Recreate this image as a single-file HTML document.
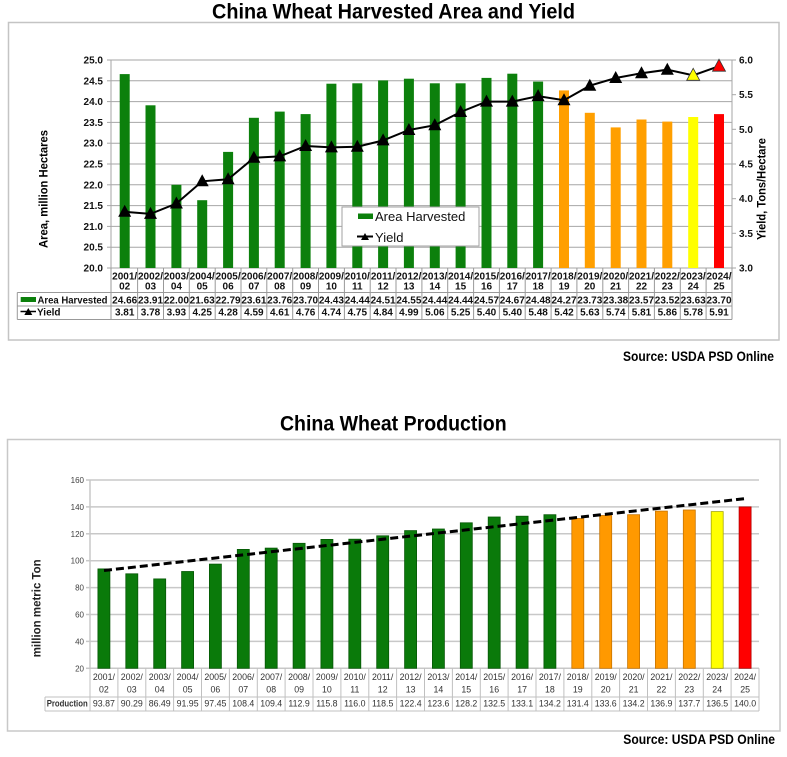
<!DOCTYPE html>
<html><head><meta charset="utf-8"><style>
html,body{margin:0;padding:0;background:#fff;}
svg{display:block;}
text{font-family:"Liberation Sans",sans-serif;}
</style></head><body>
<svg width="787" height="757" viewBox="0 0 787 757" xmlns="http://www.w3.org/2000/svg">
<defs><polygon id="tri" points="-6.5,5 6.5,5 0,-7"/><polygon id="tris" points="-4,3 4,3 0,-4"/></defs>
<rect width="787" height="757" fill="#fff"/>

<!-- ===== TOP CHART ===== -->
<text x="393.5" y="18.5" font-size="21" font-weight="bold" text-anchor="middle" textLength="363" lengthAdjust="spacingAndGlyphs">China Wheat Harvested Area and Yield</text>
<rect x="8.5" y="22.5" width="770.5" height="317.5" fill="#fff" stroke="#c4c4c4" stroke-width="1.5"/>

<!-- gridlines -->
<g stroke="#a6a6a6" stroke-width="1">
<line x1="111" y1="60" x2="732" y2="60"/><line x1="111" y1="80.8" x2="732" y2="80.8"/><line x1="111" y1="101.6" x2="732" y2="101.6"/><line x1="111" y1="122.4" x2="732" y2="122.4"/><line x1="111" y1="143.2" x2="732" y2="143.2"/><line x1="111" y1="164" x2="732" y2="164"/><line x1="111" y1="184.8" x2="732" y2="184.8"/><line x1="111" y1="205.6" x2="732" y2="205.6"/><line x1="111" y1="226.4" x2="732" y2="226.4"/><line x1="111" y1="247.2" x2="732" y2="247.2"/><line x1="111" y1="268" x2="732" y2="268"/>
<line x1="111" y1="60" x2="111" y2="268"/><line x1="732" y1="60" x2="732" y2="268"/>
<line x1="107" y1="60" x2="111" y2="60"/><line x1="107" y1="80.8" x2="111" y2="80.8"/><line x1="107" y1="101.6" x2="111" y2="101.6"/><line x1="107" y1="122.4" x2="111" y2="122.4"/><line x1="107" y1="143.2" x2="111" y2="143.2"/><line x1="107" y1="164" x2="111" y2="164"/><line x1="107" y1="184.8" x2="111" y2="184.8"/><line x1="107" y1="205.6" x2="111" y2="205.6"/><line x1="107" y1="226.4" x2="111" y2="226.4"/><line x1="107" y1="247.2" x2="111" y2="247.2"/><line x1="107" y1="268" x2="111" y2="268"/>
<line x1="732" y1="60" x2="736" y2="60"/><line x1="732" y1="94.7" x2="736" y2="94.7"/><line x1="732" y1="129.3" x2="736" y2="129.3"/><line x1="732" y1="164" x2="736" y2="164"/><line x1="732" y1="198.7" x2="736" y2="198.7"/><line x1="732" y1="233.3" x2="736" y2="233.3"/><line x1="732" y1="268" x2="736" y2="268"/>
</g>

<!-- left tick labels -->
<g font-size="10" font-weight="bold" text-anchor="end" fill="#111">
<text x="103" y="63.5">25.0</text><text x="103" y="84.3">24.5</text><text x="103" y="105.1">24.0</text><text x="103" y="125.9">23.5</text><text x="103" y="146.7">23.0</text><text x="103" y="167.5">22.5</text><text x="103" y="188.3">22.0</text><text x="103" y="209.1">21.5</text><text x="103" y="229.9">21.0</text><text x="103" y="250.7">20.5</text><text x="103" y="271.5">20.0</text>
</g>
<!-- right tick labels -->
<g font-size="10" font-weight="bold" fill="#111">
<text x="739" y="63.5">6.0</text><text x="739" y="98.2">5.5</text><text x="739" y="132.8">5.0</text><text x="739" y="167.5">4.5</text><text x="739" y="202.2">4.0</text><text x="739" y="236.8">3.5</text><text x="739" y="271.5">3.0</text>
</g>
<text transform="translate(47.5,189) rotate(-90)" font-size="12" font-weight="bold" text-anchor="middle" textLength="118" lengthAdjust="spacingAndGlyphs">Area, million Hectares</text>
<text transform="translate(765.5,189) rotate(-90)" font-size="12" font-weight="bold" text-anchor="middle" textLength="102" lengthAdjust="spacingAndGlyphs">Yield, Tons/Hectare</text>

<!-- bars -->
<g fill="#0c800c">
<rect x="119.7" y="74.1" width="10" height="193.9"/>
<rect x="145.5" y="105.3" width="10" height="162.7"/>
<rect x="171.4" y="184.8" width="10" height="83.2"/>
<rect x="197.2" y="200.2" width="10" height="67.8"/>
<rect x="223.1" y="151.9" width="10" height="116.1"/>
<rect x="248.9" y="117.8" width="10" height="150.2"/>
<rect x="274.7" y="111.6" width="10" height="156.4"/>
<rect x="300.6" y="114.1" width="10" height="153.9"/>
<rect x="326.4" y="83.7" width="10" height="184.3"/>
<rect x="352.3" y="83.3" width="10" height="184.7"/>
<rect x="378.1" y="80.4" width="10" height="187.6"/>
<rect x="403.9" y="78.7" width="10" height="189.3"/>
<rect x="429.8" y="83.3" width="10" height="184.7"/>
<rect x="455.6" y="83.3" width="10" height="184.7"/>
<rect x="481.5" y="77.9" width="10" height="190.1"/>
<rect x="507.3" y="73.7" width="10" height="194.3"/>
<rect x="533.1" y="81.6" width="10" height="186.4"/>
</g>
<g fill="#ff9f00">
<rect x="559.0" y="90.4" width="10" height="177.6"/>
<rect x="584.8" y="112.8" width="10" height="155.2"/>
<rect x="610.7" y="127.4" width="10" height="140.6"/>
<rect x="636.5" y="119.5" width="10" height="148.5"/>
<rect x="662.3" y="121.6" width="10" height="146.4"/>
</g>
<rect x="688.2" y="117.0" width="10" height="151.0" fill="#ffff00"/>
<rect x="714.0" y="114.1" width="10" height="153.9" fill="#ff0000"/>

<!-- legend -->
<rect x="342" y="207" width="137" height="39" fill="#fff" stroke="#a0a0a0" stroke-width="1"/>
<rect x="358" y="213.5" width="15" height="5.5" fill="#0c800c"/>
<text x="375" y="221" font-size="13" fill="#111">Area Harvested</text>
<line x1="357" y1="236.5" x2="373" y2="236.5" stroke="#000" stroke-width="2"/>
<use href="#tris" x="365" y="237" fill="#000"/>
<text x="375" y="242" font-size="13" fill="#111">Yield</text>

<!-- yield line -->
<polyline fill="none" stroke="#000" stroke-width="2" points="124.7,211.8 150.5,213.9 176.4,203.5 202.2,181.3 228.1,179.3 253.9,157.8 279.7,156.4 305.6,146.0 331.4,147.4 357.3,146.7 383.1,140.4 408.9,130.0 434.8,125.2 460.6,112.0 486.5,101.6 512.3,101.6 538.1,96.1 564.0,100.2 589.8,85.7 615.7,78.0 641.5,73.2 667.3,69.7 693.2,75.3 719.0,66.2"/>
<g fill="#000">
<use href="#tri" x="124.7" y="211.8"/><use href="#tri" x="150.5" y="213.9"/><use href="#tri" x="176.4" y="203.5"/><use href="#tri" x="202.2" y="181.3"/><use href="#tri" x="228.1" y="179.3"/><use href="#tri" x="253.9" y="157.8"/><use href="#tri" x="279.7" y="156.4"/><use href="#tri" x="305.6" y="146.0"/><use href="#tri" x="331.4" y="147.4"/><use href="#tri" x="357.3" y="146.7"/><use href="#tri" x="383.1" y="140.4"/><use href="#tri" x="408.9" y="130.0"/><use href="#tri" x="434.8" y="125.2"/><use href="#tri" x="460.6" y="112.0"/><use href="#tri" x="486.5" y="101.6"/><use href="#tri" x="512.3" y="101.6"/><use href="#tri" x="538.1" y="96.1"/><use href="#tri" x="564.0" y="100.2"/><use href="#tri" x="589.8" y="85.7"/><use href="#tri" x="615.7" y="78.0"/><use href="#tri" x="641.5" y="73.2"/><use href="#tri" x="667.3" y="69.7"/>
</g>
<use href="#tri" x="693.2" y="75.3" fill="#ffff00" stroke="#333" stroke-width="0.8"/>
<use href="#tri" x="719.0" y="66.2" fill="#ff0000" stroke="#333" stroke-width="0.8"/>

<!-- top table -->
<g stroke="#999" stroke-width="1" fill="none">
<path d="M111 268V319.5M137.6 268V319.5M163.5 268V319.5M189.3 268V319.5M215.2 268V319.5M241 268V319.5M266.8 268V319.5M292.7 268V319.5M318.5 268V319.5M344.4 268V319.5M370.2 268V319.5M396 268V319.5M421.9 268V319.5M447.7 268V319.5M473.6 268V319.5M499.4 268V319.5M525.2 268V319.5M551.1 268V319.5M576.9 268V319.5M602.8 268V319.5M628.6 268V319.5M654.4 268V319.5M680.3 268V319.5M706.1 268V319.5M732 268V319.5"/>
<path d="M17.3 292.5H732M17.3 306H732M17.3 319.5H732M17.3 292.5V319.5"/>
</g>
<g font-size="10" font-weight="bold" text-anchor="middle" fill="#111">
<text x="124.7" y="279.3">2001/</text><text x="124.7" y="289.5">02</text>
<text x="150.5" y="279.3">2002/</text><text x="150.5" y="289.5">03</text>
<text x="176.4" y="279.3">2003/</text><text x="176.4" y="289.5">04</text>
<text x="202.2" y="279.3">2004/</text><text x="202.2" y="289.5">05</text>
<text x="228.1" y="279.3">2005/</text><text x="228.1" y="289.5">06</text>
<text x="253.9" y="279.3">2006/</text><text x="253.9" y="289.5">07</text>
<text x="279.7" y="279.3">2007/</text><text x="279.7" y="289.5">08</text>
<text x="305.6" y="279.3">2008/</text><text x="305.6" y="289.5">09</text>
<text x="331.4" y="279.3">2009/</text><text x="331.4" y="289.5">10</text>
<text x="357.3" y="279.3">2010/</text><text x="357.3" y="289.5">11</text>
<text x="383.1" y="279.3">2011/</text><text x="383.1" y="289.5">12</text>
<text x="408.9" y="279.3">2012/</text><text x="408.9" y="289.5">13</text>
<text x="434.8" y="279.3">2013/</text><text x="434.8" y="289.5">14</text>
<text x="460.6" y="279.3">2014/</text><text x="460.6" y="289.5">15</text>
<text x="486.5" y="279.3">2015/</text><text x="486.5" y="289.5">16</text>
<text x="512.3" y="279.3">2016/</text><text x="512.3" y="289.5">17</text>
<text x="538.1" y="279.3">2017/</text><text x="538.1" y="289.5">18</text>
<text x="564.0" y="279.3">2018/</text><text x="564.0" y="289.5">19</text>
<text x="589.8" y="279.3">2019/</text><text x="589.8" y="289.5">20</text>
<text x="615.7" y="279.3">2020/</text><text x="615.7" y="289.5">21</text>
<text x="641.5" y="279.3">2021/</text><text x="641.5" y="289.5">22</text>
<text x="667.3" y="279.3">2022/</text><text x="667.3" y="289.5">23</text>
<text x="693.2" y="279.3">2023/</text><text x="693.2" y="289.5">24</text>
<text x="719.0" y="279.3">2024/</text><text x="719.0" y="289.5">25</text>

<text x="124.7" y="303.3">24.66</text><text x="150.5" y="303.3">23.91</text><text x="176.4" y="303.3">22.00</text><text x="202.2" y="303.3">21.63</text><text x="228.1" y="303.3">22.79</text><text x="253.9" y="303.3">23.61</text><text x="279.7" y="303.3">23.76</text><text x="305.6" y="303.3">23.70</text><text x="331.4" y="303.3">24.43</text><text x="357.3" y="303.3">24.44</text><text x="383.1" y="303.3">24.51</text><text x="408.9" y="303.3">24.55</text><text x="434.8" y="303.3">24.44</text><text x="460.6" y="303.3">24.44</text><text x="486.5" y="303.3">24.57</text><text x="512.3" y="303.3">24.67</text><text x="538.1" y="303.3">24.48</text><text x="564.0" y="303.3">24.27</text><text x="589.8" y="303.3">23.73</text><text x="615.7" y="303.3">23.38</text><text x="641.5" y="303.3">23.57</text><text x="667.3" y="303.3">23.52</text><text x="693.2" y="303.3">23.63</text><text x="719.0" y="303.3">23.70</text>

<text x="124.7" y="315.7">3.81</text><text x="150.5" y="315.7">3.78</text><text x="176.4" y="315.7">3.93</text><text x="202.2" y="315.7">4.25</text><text x="228.1" y="315.7">4.28</text><text x="253.9" y="315.7">4.59</text><text x="279.7" y="315.7">4.61</text><text x="305.6" y="315.7">4.76</text><text x="331.4" y="315.7">4.74</text><text x="357.3" y="315.7">4.75</text><text x="383.1" y="315.7">4.84</text><text x="408.9" y="315.7">4.99</text><text x="434.8" y="315.7">5.06</text><text x="460.6" y="315.7">5.25</text><text x="486.5" y="315.7">5.40</text><text x="512.3" y="315.7">5.40</text><text x="538.1" y="315.7">5.48</text><text x="564.0" y="315.7">5.42</text><text x="589.8" y="315.7">5.63</text><text x="615.7" y="315.7">5.74</text><text x="641.5" y="315.7">5.81</text><text x="667.3" y="315.7">5.86</text><text x="693.2" y="315.7">5.78</text><text x="719.0" y="315.7">5.91</text>
</g>
<rect x="20.7" y="297" width="15.3" height="5" fill="#0c800c"/>
<text x="37.5" y="303.3" font-size="10" font-weight="bold" fill="#111" textLength="70" lengthAdjust="spacingAndGlyphs">Area Harvested</text>
<line x1="20.5" y1="311.5" x2="36" y2="311.5" stroke="#000" stroke-width="1.5"/>
<use href="#tris" x="28.3" y="312" fill="#000"/>
<text x="37" y="315.7" font-size="10" font-weight="bold" fill="#111">Yield</text>

<text x="774" y="361" font-size="14" font-weight="bold" text-anchor="end" textLength="151" lengthAdjust="spacingAndGlyphs">Source: USDA PSD Online</text>

<!-- ===== BOTTOM CHART ===== -->
<text x="393.3" y="430.5" font-size="21" font-weight="bold" text-anchor="middle" textLength="226.7" lengthAdjust="spacingAndGlyphs">China Wheat Production</text>
<rect x="7.5" y="439.5" width="772.5" height="291.5" fill="#fff" stroke="#c8c8c8" stroke-width="1.5"/>

<g stroke="#c8c8c8" stroke-width="1.5">
<line x1="90" y1="480" x2="759" y2="480"/><line x1="90" y1="506.9" x2="759" y2="506.9"/><line x1="90" y1="533.8" x2="759" y2="533.8"/><line x1="90" y1="560.7" x2="759" y2="560.7"/><line x1="90" y1="587.6" x2="759" y2="587.6"/><line x1="90" y1="614.5" x2="759" y2="614.5"/><line x1="90" y1="641.4" x2="759" y2="641.4"/><line x1="90" y1="668.3" x2="759" y2="668.3"/>
<line x1="90" y1="480" x2="90" y2="668.3"/>
<line x1="86" y1="480" x2="90" y2="480"/><line x1="86" y1="506.9" x2="90" y2="506.9"/><line x1="86" y1="533.8" x2="90" y2="533.8"/><line x1="86" y1="560.7" x2="90" y2="560.7"/><line x1="86" y1="587.6" x2="90" y2="587.6"/><line x1="86" y1="614.5" x2="90" y2="614.5"/><line x1="86" y1="641.4" x2="90" y2="641.4"/><line x1="86" y1="668.3" x2="90" y2="668.3"/>
</g>
<g font-size="8" text-anchor="end" fill="#404040">
<text x="84" y="483">160</text><text x="84" y="509.9">140</text><text x="84" y="536.8">120</text><text x="84" y="563.7">100</text><text x="84" y="590.6">80</text><text x="84" y="617.5">60</text><text x="84" y="644.4">40</text><text x="84" y="671.3">20</text>
</g>
<text transform="translate(40.7,608.3) rotate(-90)" font-size="12" font-weight="bold" text-anchor="middle" fill="#222" textLength="98" lengthAdjust="spacingAndGlyphs">million metric Ton</text>

<g fill="#0a7a0a" stroke="#065806" stroke-width="0.8">
<rect x="97.9" y="568.9" width="12" height="99.4"/>
<rect x="125.8" y="573.8" width="12" height="94.5"/>
<rect x="153.7" y="578.9" width="12" height="89.4"/>
<rect x="181.6" y="571.5" width="12" height="96.8"/>
<rect x="209.4" y="564.1" width="12" height="104.2"/>
<rect x="237.3" y="549.4" width="12" height="118.9"/>
<rect x="265.2" y="548.1" width="12" height="120.2"/>
<rect x="293.1" y="543.3" width="12" height="125.0"/>
<rect x="320.9" y="539.4" width="12" height="128.9"/>
<rect x="348.8" y="539.2" width="12" height="129.1"/>
<rect x="376.7" y="535.8" width="12" height="132.5"/>
<rect x="404.6" y="530.6" width="12" height="137.7"/>
<rect x="432.4" y="529.0" width="12" height="139.3"/>
<rect x="460.3" y="522.8" width="12" height="145.5"/>
<rect x="488.2" y="517.0" width="12" height="151.3"/>
<rect x="516.1" y="516.2" width="12" height="152.1"/>
<rect x="543.9" y="514.7" width="12" height="153.6"/>
</g>
<g fill="#ff9900" stroke="#c87400" stroke-width="0.8">
<rect x="571.8" y="518.5" width="12" height="149.8"/>
<rect x="599.7" y="515.5" width="12" height="152.8"/>
<rect x="627.6" y="514.7" width="12" height="153.6"/>
<rect x="655.4" y="511.1" width="12" height="157.2"/>
<rect x="683.3" y="510.0" width="12" height="158.3"/>
</g>
<rect x="711.2" y="511.6" width="12" height="156.7" fill="#ffff00" stroke="#a8a800" stroke-width="0.8"/>
<rect x="739.1" y="506.9" width="12" height="161.4" fill="#ff0000" stroke="#b00000" stroke-width="0.8"/>

<line x1="104" y1="570.5" x2="746" y2="498.5" stroke="#000" stroke-width="3" stroke-dasharray="8 4"/>

<g stroke="#c0c0c0" stroke-width="1" fill="none">
<path d="M90 668.3V711M117.9 668.3V711M145.8 668.3V711M173.6 668.3V711M201.5 668.3V711M229.4 668.3V711M257.3 668.3V711M285.1 668.3V711M313 668.3V711M340.9 668.3V711M368.8 668.3V711M396.6 668.3V711M424.5 668.3V711M452.4 668.3V711M480.3 668.3V711M508.1 668.3V711M536 668.3V711M563.9 668.3V711M591.8 668.3V711M619.6 668.3V711M647.5 668.3V711M675.4 668.3V711M703.3 668.3V711M731.1 668.3V711M759 668.3V711"/>
<path d="M45 697H759M45 711H759M45 697V711"/>
</g>
<g font-size="8.8" text-anchor="middle" fill="#333">
<text x="103.9" y="680">2001/</text><text x="103.9" y="692.7">02</text>
<text x="131.8" y="680">2002/</text><text x="131.8" y="692.7">03</text>
<text x="159.7" y="680">2003/</text><text x="159.7" y="692.7">04</text>
<text x="187.6" y="680">2004/</text><text x="187.6" y="692.7">05</text>
<text x="215.4" y="680">2005/</text><text x="215.4" y="692.7">06</text>
<text x="243.3" y="680">2006/</text><text x="243.3" y="692.7">07</text>
<text x="271.2" y="680">2007/</text><text x="271.2" y="692.7">08</text>
<text x="299.1" y="680">2008/</text><text x="299.1" y="692.7">09</text>
<text x="326.9" y="680">2009/</text><text x="326.9" y="692.7">10</text>
<text x="354.8" y="680">2010/</text><text x="354.8" y="692.7">11</text>
<text x="382.7" y="680">2011/</text><text x="382.7" y="692.7">12</text>
<text x="410.6" y="680">2012/</text><text x="410.6" y="692.7">13</text>
<text x="438.4" y="680">2013/</text><text x="438.4" y="692.7">14</text>
<text x="466.3" y="680">2014/</text><text x="466.3" y="692.7">15</text>
<text x="494.2" y="680">2015/</text><text x="494.2" y="692.7">16</text>
<text x="522.1" y="680">2016/</text><text x="522.1" y="692.7">17</text>
<text x="549.9" y="680">2017/</text><text x="549.9" y="692.7">18</text>
<text x="577.8" y="680">2018/</text><text x="577.8" y="692.7">19</text>
<text x="605.7" y="680">2019/</text><text x="605.7" y="692.7">20</text>
<text x="633.6" y="680">2020/</text><text x="633.6" y="692.7">21</text>
<text x="661.4" y="680">2021/</text><text x="661.4" y="692.7">22</text>
<text x="689.3" y="680">2022/</text><text x="689.3" y="692.7">23</text>
<text x="717.2" y="680">2023/</text><text x="717.2" y="692.7">24</text>
<text x="745.1" y="680">2024/</text><text x="745.1" y="692.7">25</text>

<text x="103.9" y="706.5">93.87</text><text x="131.8" y="706.5">90.29</text><text x="159.7" y="706.5">86.49</text><text x="187.6" y="706.5">91.95</text><text x="215.4" y="706.5">97.45</text><text x="243.3" y="706.5">108.4</text><text x="271.2" y="706.5">109.4</text><text x="299.1" y="706.5">112.9</text><text x="326.9" y="706.5">115.8</text><text x="354.8" y="706.5">116.0</text><text x="382.7" y="706.5">118.5</text><text x="410.6" y="706.5">122.4</text><text x="438.4" y="706.5">123.6</text><text x="466.3" y="706.5">128.2</text><text x="494.2" y="706.5">132.5</text><text x="522.1" y="706.5">133.1</text><text x="549.9" y="706.5">134.2</text><text x="577.8" y="706.5">131.4</text><text x="605.7" y="706.5">133.6</text><text x="633.6" y="706.5">134.2</text><text x="661.4" y="706.5">136.9</text><text x="689.3" y="706.5">137.7</text><text x="717.2" y="706.5">136.5</text><text x="745.1" y="706.5">140.0</text>
</g>
<text x="46.7" y="706.5" font-size="9.5" font-weight="bold" fill="#333" textLength="41" lengthAdjust="spacingAndGlyphs">Production</text>

<text x="775" y="744" font-size="14" font-weight="bold" text-anchor="end" textLength="151.7" lengthAdjust="spacingAndGlyphs">Source: USDA PSD Online</text>
</svg>
</body></html>
